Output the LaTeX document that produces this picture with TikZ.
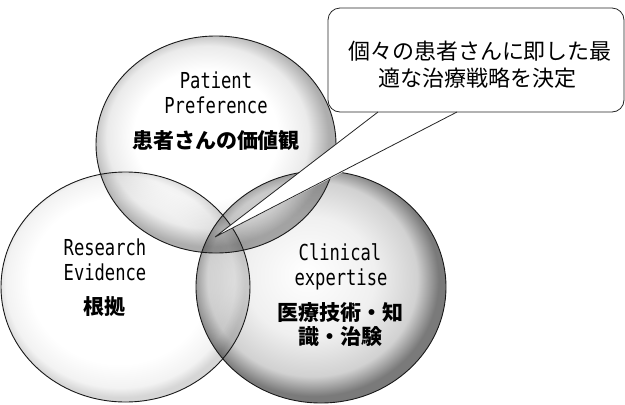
\documentclass[tikz,border=0pt]{standalone}
\usepackage{fontspec}
\newfontfamily\jpfont{Noto Sans CJK JP}
\newfontfamily\enfont[FakeStretch=0.78]{DejaVu Sans Mono}
\pgfdeclareradialshading{rimP}{\pgfpoint{-3bp}{3bp}}{color(0bp)=(white); color(15bp)=(white); color(21bp)=(black!8); color(25bp)=(black!32); color(50bp)=(black!32)}
\pgfdeclareradialshading{rimR}{\pgfpoint{-2bp}{2bp}}{color(0bp)=(white); color(18bp)=(white); color(23bp)=(black!5); color(25bp)=(black!16); color(50bp)=(black!16)}
\pgfdeclareradialshading{rimC}{\pgfpoint{-3bp}{3bp}}{color(0bp)=(white); color(13bp)=(black!6); color(21bp)=(black!18); color(25bp)=(black!52); color(50bp)=(black!52)}
\begin{document}
\begin{tikzpicture}[x=1pt,y=-1pt,
  rim/.style={draw=black!90, line width=0.9pt},
  en/.style={font=\enfont\fontsize{22}{24}\selectfont, anchor=base, inner sep=0pt},
  jp/.style={font=\jpfont\bfseries\fontsize{21}{25}\selectfont, inner sep=0pt},
  co/.style={font=\jpfont\fontsize{22}{26}\selectfont, inner sep=0pt},
  bubble/.style={draw=black!85, line width=0.8pt, fill=white}]
\useasboundingbox (0,0) rectangle (625,405);
% shaded ellipses
\begin{scope}[blend group=multiply]
  \shade[shading=rimP] (216,144.5) ellipse [x radius=120, y radius=108.5];
  \shade[shading=rimR] (125.5,287) ellipse [x radius=124.5, y radius=115];
  \shade[shading=rimC] (321,287) ellipse [x radius=125, y radius=116];
\end{scope}
\draw[rim] (216,144.5) ellipse [x radius=120, y radius=108.5];
\draw[rim] (125.5,287) ellipse [x radius=124.5, y radius=115];
\draw[rim] (321,287) ellipse [x radius=125, y radius=116];
% callout
\coordinate (tip) at (215,237);
\coordinate (b1) at (378,112);
\coordinate (b2) at (457,112);
\node[bubble, rounded corners=12pt, minimum width=296pt, minimum height=104pt, inner sep=0pt] (box) at (476,60) {};
\fill[white] (tip) -- (376.8,113.5) -- (458.2,113.5) -- cycle;
\draw[bubble, fill=none, line join=miter] (b1) -- (tip) -- (b2);
\node[co] (c1) at (480,51) {個々の患者さんに即した最};
\node[co] (c2) at (477,78) {適な治療戦略を決定};
% texts
\node[en] (p1) at (216,88) {Patient};
\node[en] (p2) at (216,113) {Preference};
\node[jp] (p3) at (216,140) {患者さんの価値観};
\node[en] (r1) at (105,255) {Research};
\node[en] (r2) at (105,280) {Evidence};
\node[jp] (r3) at (104,307) {根拠};
\node[en] (k1) at (340,260) {Clinical};
\node[en] (k2) at (341,285) {expertise};
\node[jp] (k3) at (340,313) {医療技術・知};
\node[jp] (k4) at (340,337) {識・治験};
\end{tikzpicture}
\end{document}
